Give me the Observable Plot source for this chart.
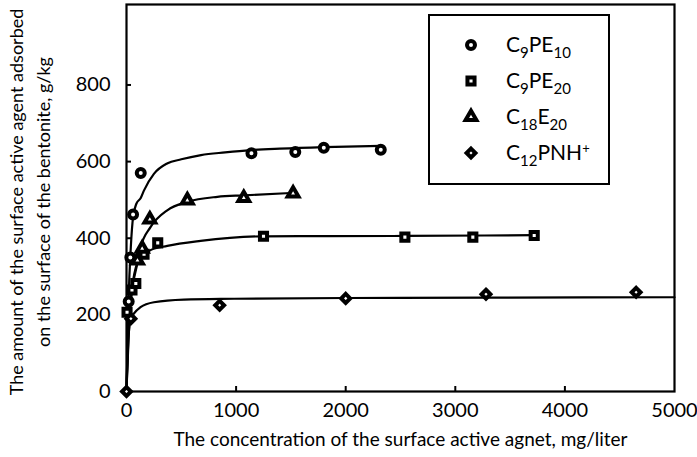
<!DOCTYPE html>
<html><head><meta charset="utf-8">
<script src="https://cdn.jsdelivr.net/npm/d3@7"></script>
<script src="https://cdn.jsdelivr.net/npm/@observablehq/plot@0.6"></script>
<style>
body{margin:0;background:#fff;}
#wrap{position:relative;width:697px;height:457px;font-family:Lato,"Noto Sans",sans-serif;color:#000;}
#legend{position:absolute;left:428px;top:14px;width:182px;height:171px;border:2px solid #000;box-sizing:border-box;background:#fff;}
.row{position:absolute;left:76px;font-size:21px;line-height:1;white-space:nowrap;}
.row sub{font-size:15px;vertical-align:-6px;line-height:0;}
.row sup{font-size:13px;vertical-align:7px;line-height:0;}
#legsym{position:absolute;left:0;top:0;}
</style></head>
<body><div id="wrap"></div>
<script>
// ---- data ----
const seriesNames = ["C9PE10", "C9PE20", "C18E20", "C12PNH+"];
const seriesSymbols = ["circle", "square", "triangle", "diamond2"];
const xTicks = [0, 1000, 2000, 3000, 4000, 5000];
const yTicks = [0, 200, 400, 600, 800];

// measured points [concentration mg/l, adsorbed g/kg]
const c9pe10Pts = [[20,235],[35,350],[60,462],[130,570],[1140,622],[1540,625],[1800,636],[2320,631]];
const c9pe20Pts = [[5,207],[50,265],[85,282],[160,358],[285,388],[1250,405],[2540,403],[3160,403],[3720,407]];
const c18e20Pts = [[100,342],[143,373],[213,449],[555,499],[1070,505],[1520,517]];
const c12pnhPts = [[0,0],[40,190],[850,225],[2000,243],[3280,254],[4650,259]];

// fitted curves
const c9pe10Curve = [[0,0],[20,250],[40,380],[60,455],[90,490],[130,505],[160,525],[250,568],[370,595],[500,606],[680,617],[900,624],[1130,630],[1400,634],[1800,638],[2320,641]];
const c9pe20Curve = [[0,0],[20,190],[50,270],[98,335],[160,358],[219,369],[372,380],[676,393],[1255,405],[2540,406],[3720,408]];
const c18e20Curve = [[0,0],[30,200],[60,280],[100,335],[128,375],[219,429],[372,473],[555,495],[829,508],[1072,512],[1500,518]];
const c12pnhCurve = [[0,0],[20,150],[40,190],[67,203],[128,220],[250,233],[524,240],[981,242],[2000,244],[3300,245],[5000,246]];

const xLabel = "The concentration of the surface active agnet, mg/liter";
const yLabelLines = ["The amount of the surface active agent adsorbed", "on the surface of the bentonite, g/kg"];

// ---- build ----
const ptSets = [c9pe10Pts, c9pe20Pts, c18e20Pts, c12pnhPts];
const curveSets = [c9pe10Curve, c9pe20Curve, c18e20Curve, c12pnhCurve];
const points = ptSets.flatMap((arr, i) => arr.map(([x, y]) => ({x, y, s: seriesNames[i]})));
const curves = curveSets.flatMap((arr, i) => arr.map(([x, y]) => ({x, y, s: seriesNames[i]})));

const font = "Lato, 'Noto Sans', sans-serif";
const chart = Plot.plot({
  width: 697, height: 457,
  marginLeft: 126, marginRight: 23, marginTop: 4, marginBottom: 66,
  style: {fontFamily: font, fontSize: "20px", color: "#000", background: "#fff", overflow: "visible"},
  x: {domain: [0, 5000]},
  y: {domain: [0, 1010]},
  symbol: {domain: seriesNames, range: seriesSymbols},
  marks: [
    Plot.line(curves, {x: "x", y: "y", z: "s", curve: "monotone-x", stroke: "#000", strokeWidth: 2.2}),
    Plot.frame({stroke: "#000", strokeWidth: 2.2}),
    Plot.axisX({ticks: xTicks.slice(1, -1), tickSize: 5, dy: -5, text: null, label: null, strokeWidth: 2}),
    Plot.axisX({ticks: xTicks, tickSize: 0, tickPadding: 11, tickFormat: d => String(d), label: null, fontSize: 20}),
    Plot.axisY({ticks: yTicks.slice(1), tickSize: 5, dx: 5, text: null, label: null, strokeWidth: 2}),
    Plot.axisY({ticks: yTicks, tickSize: 0, tickPadding: 16, tickFormat: d => String(d), label: null, fontSize: 20}),
    Plot.dot(points, {x: "x", y: "y", symbol: "s", r: 4, stroke: "#000", strokeWidth: 4, fill: "#fff"}),
    Plot.text([xLabel], {frameAnchor: "bottom", dy: 54, text: d => d, fontSize: 19}),
    Plot.text([yLabelLines[0]], {frameAnchor: "left", textAnchor: "middle", dx: -109, dy: 4, rotate: -90, text: d => d, fontSize: 18}),
    Plot.text([yLabelLines[1]], {frameAnchor: "left", textAnchor: "middle", dx: -82, dy: 4, rotate: -90, text: d => d, fontSize: 18})
  ]
});
const wrap = document.getElementById("wrap");
wrap.appendChild(chart);

// legend
const leg = document.createElement("div");
leg.id = "legend";
const labelsHtml = ["C<sub>9</sub>PE<sub>10</sub>", "C<sub>9</sub>PE<sub>20</sub>", "C<sub>18</sub>E<sub>20</sub>", "C<sub>12</sub>PNH<sup>+</sup>"];
const rowY = [31, 67, 103, 139];
const svg = d3.create("svg").attr("id", "legsym").attr("width", 178).attr("height", 167);
const symMap = {circle: d3.symbolCircle, square: d3.symbolSquare, triangle: d3.symbolTriangle, diamond2: d3.symbolDiamond2};
seriesNames.forEach((n, i) => {
  svg.append("path").attr("transform", `translate(41,${rowY[i] - 2})`)
    .attr("d", d3.symbol(symMap[seriesSymbols[i]], Math.PI * 16)())
    .attr("fill", "#fff").attr("stroke", "#000").attr("stroke-width", 4);
  const r = document.createElement("div");
  r.className = "row";
  r.style.top = (rowY[i] - 14) + "px";
  r.innerHTML = labelsHtml[i];
  leg.appendChild(r);
});
leg.appendChild(svg.node());
wrap.appendChild(leg);
</script></body></html>
